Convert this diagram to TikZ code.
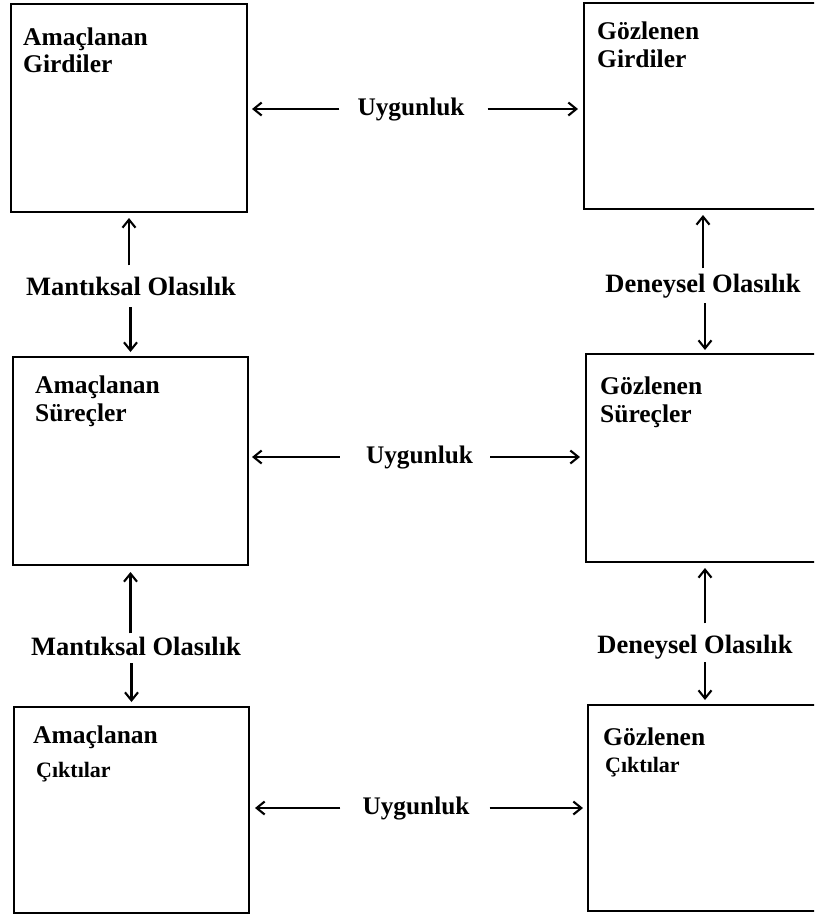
\documentclass[tikz,border=0pt]{standalone}
\usepackage{fontspec}
\setmainfont{Liberation Serif}
\usetikzlibrary{arrows.meta,calc}
\begin{document}
\begin{tikzpicture}[x=1pt,y=-1pt,
  box/.style={draw, line width=2.4pt, rectangle, inner sep=0pt, outer sep=0pt},
  boxtxt/.style={anchor=base west, inner sep=0pt, font=\fontsize{25.5}{28}\selectfont\bfseries},
  smalltxt/.style={anchor=base west, inner sep=0pt, font=\fontsize{22}{26}\selectfont\bfseries},
  lab/.style={anchor=base, inner sep=0pt, font=\fontsize{26.5}{30}\selectfont\bfseries},
  ulab/.style={anchor=base, inner sep=0pt, font=\fontsize{25.3}{30}\selectfont\bfseries},
  arr/.style={-{Straight Barb[length=8pt,width=13pt]}, line width=2.1pt}]
\useasboundingbox (0,0) rectangle (814,918);
\clip (0,0) rectangle (814,918);

% boxes
\node[box, minimum width=236, minimum height=208] (b1) at (129,108) {};
\node[box, minimum width=238, minimum height=206] (b2) at (703,106) {};
\node[box, minimum width=235, minimum height=208] (b3) at (130.5,461) {};
\node[box, minimum width=238, minimum height=208] (b4) at (705,458) {};
\node[box, minimum width=235, minimum height=206] (b5) at (131.5,810) {};
\node[box, minimum width=234, minimum height=206] (b6) at (705,808) {};

% box texts
\node[boxtxt] at ($(b1.north west)+(12,41)$) {Amaçlanan};
\node[boxtxt] at ($(b1.north west)+(12,68)$) {Girdiler};
\node[boxtxt] at ($(b2.north west)+(13,36)$) {Gözlenen};
\node[boxtxt] at ($(b2.north west)+(13,64)$) {Girdiler};
\node[boxtxt] at ($(b3.north west)+(22,36)$) {Amaçlanan};
\node[boxtxt] at ($(b3.north west)+(22,64)$) {Süreçler};
\node[boxtxt] at ($(b4.north west)+(14,40)$) {Gözlenen};
\node[boxtxt] at ($(b4.north west)+(14,68)$) {Süreçler};
\node[boxtxt] at ($(b5.north west)+(19,36)$) {Amaçlanan};
\node[smalltxt] at ($(b5.north west)+(22,70)$) {Çıktılar};
\node[boxtxt] at ($(b6.north west)+(15,40)$) {Gözlenen};
\node[smalltxt] at ($(b6.north west)+(17,67)$) {Çıktılar};

% labels
\node[lab] (m1) at (131,295) {Mantıksal Olasılık};
\node[lab] (d1) at (703,292) {Deneysel Olasılık};
\node[lab] (m2) at (136,655) {Mantıksal Olasılık};
\node[lab] (d2) at (695,653) {Deneysel Olasılık};
\node[ulab] (u1) at (411,115) {Uygunluk};
\node[ulab] (u2) at (419.5,463) {Uygunluk};
\node[ulab] (u3) at (416,814) {Uygunluk};

% vertical arrows
\draw[arr, shorten <=11pt, shorten >=6pt] (m1.north -| b1.south) -- (b1.south);
\draw[arr, shorten <=12pt, shorten >=5pt] (m1.south -| b3.north) -- (b3.north);
\draw[arr, shorten <=5pt, shorten >=6pt] (d1.north -| b2.south) -- (b2.south);
\draw[arr, shorten <=5.5pt, shorten >=4pt] (d1.south -| b4.north) -- (b4.north);
\draw[arr, shorten <=3pt, shorten >=7pt] (m2.north -| b3.south) -- (b3.south);
\draw[arr, shorten <=8pt, shorten >=5pt] (m2.south -| b5.north) -- (b5.north);
\draw[arr, shorten <=11pt, shorten >=6pt] (d2.north -| b4.south) -- (b4.south);
\draw[arr, shorten <=3.5pt, shorten >=5pt] (d2.south -| b6.north) -- (b6.north);

% horizontal arrows
\draw[arr, shorten <=18pt, shorten >=5pt] (u1.west) -- (u1.west -| b1.east);
\draw[arr, shorten <=23pt, shorten >=6pt] (u1.east) -- (u1.east -| b2.west);
\draw[arr, shorten <=26pt, shorten >=4pt] (u2.west) -- (u2.west -| b3.east);
\draw[arr, shorten <=17pt, shorten >=6pt] (u2.east) -- (u2.east -| b4.west);
\draw[arr, shorten <=22pt, shorten >=6pt] (u3.west) -- (u3.west -| b5.east);
\draw[arr, shorten <=20pt, shorten >=5pt] (u3.east) -- (u3.east -| b6.west);
\end{tikzpicture}
\end{document}
